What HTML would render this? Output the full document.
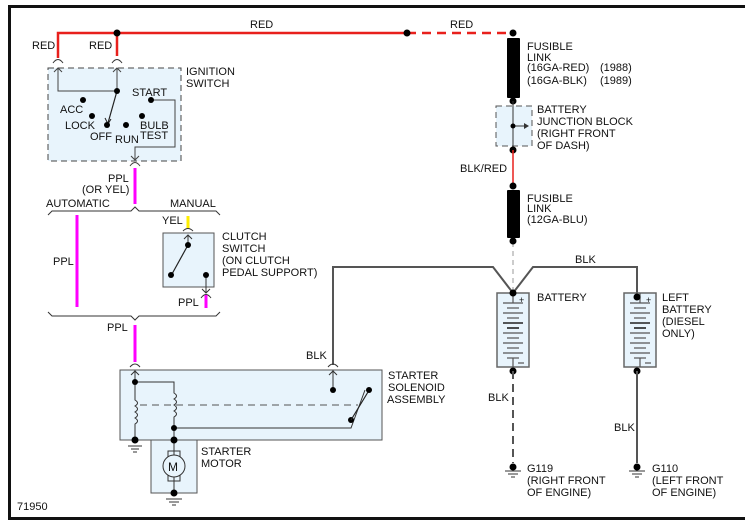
<!DOCTYPE html>
<html><head><meta charset="utf-8"><style>
html,body{margin:0;padding:0;background:#fff;}
svg{display:block;}
text{font-family:"Liberation Sans",Arial,sans-serif;font-size:11px;fill:#111;}
</style></head><body>
<svg width="745" height="522" viewBox="0 0 745 522" xmlns="http://www.w3.org/2000/svg">
<rect x="0" y="0" width="745" height="522" fill="#fff"/>
<!-- frame -->
<path d="M9.5 520 V6.5 H745" fill="none" stroke="#111" stroke-width="3"/>
<path d="M8 518.5 H745" stroke="#111" stroke-width="3"/>

<!-- red top wire -->
<path d="M58 58 V33 H407" fill="none" stroke="#e8201c" stroke-width="2.5"/>
<path d="M117 33 V56" stroke="#e8201c" stroke-width="2.5"/>
<path d="M407 33 H513" stroke="#e8201c" stroke-width="2.5" stroke-dasharray="9,6"/>
<circle cx="117" cy="33" r="3.5" fill="#000"/>
<circle cx="407" cy="33" r="3.5" fill="#000"/>
<circle cx="513" cy="33" r="3.5" fill="#000"/>
<text x="32" y="49">RED</text><text x="89" y="49">RED</text>
<text x="250" y="28">RED</text><text x="450" y="28">RED</text>
<!-- connector arcs -->
<g fill="none" stroke="#333" stroke-width="1">
<path d="M53 63 Q58 56 63 63"/><path d="M112 63 Q117 56 122 63"/>
</g>
<!-- ignition switch -->
<rect x="48" y="68" width="133" height="93" fill="#e8f4fc" stroke="#444" stroke-dasharray="6,4"/>
<g fill="none" stroke="#444" stroke-width="1">
<path d="M58 68 V91 H117"/><path d="M117 68 V91"/>
<path d="M54 72 L58 68 L62 72"/><path d="M113 72 L117 68 L121 72"/>
<path d="M151 100 H175 V147 H135 V160"/><path d="M131 156 L135 160 L139 156"/>
<path d="M130 166 Q135 159 140 166"/>
</g>
<line x1="117" y1="91" x2="108" y2="123" stroke="#222" stroke-width="1.2"/>
<path d="M105 118 L108 124 L111 119" fill="none" stroke="#222"/>
<g fill="#000"><circle cx="117" cy="91" r="3"/><circle cx="83" cy="100" r="3"/><circle cx="92" cy="116" r="3"/>
<circle cx="107" cy="125" r="3"/><circle cx="126" cy="125" r="3"/><circle cx="142" cy="116" r="3"/><circle cx="151" cy="100" r="3"/></g>
<text x="60" y="113">ACC</text><text x="65" y="129">LOCK</text><text x="90" y="140">OFF</text><text x="115" y="143">RUN</text>
<text x="140" y="129">BULB</text><text x="140" y="139">TEST</text><text x="132" y="96">START</text>
<text x="186" y="75">IGNITION</text><text x="186" y="87">SWITCH</text>
<!-- PPL -->
<line x1="135" y1="168" x2="135" y2="204" stroke="#ff00ff" stroke-width="3"/>
<text x="108" y="182">PPL</text><text x="82" y="193">(OR YEL)</text>
<text x="46" y="207">AUTOMATIC</text><text x="170" y="207">MANUAL</text>
<path d="M48 215 L52 211 H131 L135 207 L139 211 H216 L220 215" fill="none" stroke="#333"/>
<line x1="77" y1="215" x2="77" y2="307" stroke="#ff00ff" stroke-width="3"/>
<text x="53" y="265">PPL</text>
<!-- clutch switch -->
<line x1="188" y1="216" x2="188" y2="228" stroke="#ffee00" stroke-width="3"/>
<text x="162" y="224">YEL</text>
<path d="M183 231 Q188 226 193 231" fill="none" stroke="#333"/>
<rect x="163" y="233" width="51" height="54" fill="#e8f4fc" stroke="#555"/>
<g fill="none" stroke="#333"><path d="M188 245 V235"/><path d="M184 239 L188 235 L192 239"/>
<path d="M206 275 V293"/><path d="M202 289 L206 293 L210 289"/><path d="M201 298 Q206 291 211 298"/></g>
<line x1="188" y1="245" x2="172" y2="274" stroke="#222" stroke-width="1.2"/>
<g fill="#000"><circle cx="188" cy="245" r="3"/><circle cx="171" cy="275" r="3"/><circle cx="206" cy="275" r="3"/></g>
<text x="222" y="240">CLUTCH</text><text x="222" y="252">SWITCH</text><text x="222" y="264">(ON CLUTCH</text><text x="222" y="276">PEDAL SUPPORT)</text>
<line x1="206" y1="295" x2="206" y2="308" stroke="#ff00ff" stroke-width="3"/>
<text x="178" y="306">PPL</text>
<path d="M48 312 L52 316 H131 L135 320 L139 316 H216 L220 312" fill="none" stroke="#333"/>
<text x="107" y="331">PPL</text>
<line x1="135" y1="325" x2="135" y2="362" stroke="#ff00ff" stroke-width="3"/>
<path d="M130 367 Q135 361 140 367" fill="none" stroke="#333"/>
<!-- BLK wire -->
<path d="M333 365 V267 H493 L513 293 L533 267 H637 V297" fill="none" stroke="#555" stroke-width="2"/>
<line x1="513" y1="242" x2="513" y2="293" stroke="#bbb" stroke-width="1.5" stroke-dasharray="5,4"/>
<text x="306" y="359">BLK</text><text x="575" y="263">BLK</text>
<path d="M328 367 Q333 361 338 367" fill="none" stroke="#333"/>
<!-- solenoid -->
<rect x="120" y="370" width="262" height="70" fill="#e8f4fc" stroke="#555"/>
<rect x="151" y="440" width="46" height="53" fill="#e8f4fc" stroke="#555"/>
<g fill="none" stroke="#333" stroke-width="1">
<path d="M135 370 V382"/><path d="M131 375 L135 371 L139 375"/>
<path d="M135 382 V400 q5 3 0 6 q5 3 0 6 q5 3 0 6 q5 3 0 6 V440"/>
<path d="M135 382 H174 V393 q5 3 0 6 q5 3 0 6 q5 3 0 6 q5 3 0 6 V440"/>
<path d="M174 428 H351 L365 390"/>
<path d="M333 370 V390"/><path d="M329 375 L333 371 L337 375"/>
<path d="M140 405 H358" stroke="#555" stroke-dasharray="7,5"/>
<path d="M174 440 V457"/><path d="M174 475 V493"/>
<rect x="168" y="451" width="12" height="6"/><rect x="168" y="475" width="12" height="6"/>
<path d="M128 446 H142 M131 449 H139 M133 452 H137"/>
<path d="M166 499 H182 M169 502 H179 M172 505 H176"/>
</g>
<circle cx="174" cy="466" r="11" fill="#e8f4fc" stroke="#333"/>
<text x="168" y="471" style="font-size:12px">M</text>
<g fill="#000"><circle cx="135" cy="382" r="3"/><circle cx="174" cy="428" r="3"/><circle cx="135" cy="440" r="3.5"/>
<circle cx="174" cy="440" r="3.5"/><circle cx="333" cy="390" r="3"/><circle cx="351" cy="420" r="3"/><circle cx="369" cy="390" r="3"/><circle cx="174" cy="493" r="3.5"/></g>
<line x1="351" y1="420" x2="368" y2="392" stroke="#222" stroke-width="1.2"/>
<text x="388" y="379">STARTER</text><text x="388" y="391">SOLENOID</text><text x="387" y="403">ASSEMBLY</text>
<text x="201" y="455">STARTER</text><text x="201" y="467">MOTOR</text>
<!-- fusible link 1 -->
<rect x="507" y="38" width="13" height="60" rx="1" fill="#000"/>
<circle cx="513" cy="101" r="3.5" fill="#000"/>
<text x="527" y="50">FUSIBLE</text><text x="527" y="61">LINK</text><text x="527" y="71">(16GA-RED)</text><text x="600" y="71">(1988)</text>
<text x="527" y="84">(16GA-BLK)</text><text x="600" y="84">(1989)</text>
<rect x="496" y="106" width="36" height="40" fill="#e8f4fc" stroke="#555" stroke-dasharray="6,4"/>
<line x1="513" y1="101" x2="513" y2="150" stroke="#333"/>
<line x1="513" y1="126" x2="527" y2="126" stroke="#333"/>
<path d="M524 123 L529 126 L524 129 Z" fill="#333"/>
<circle cx="513" cy="126" r="2.5" fill="#000"/>
<circle cx="513" cy="150" r="3.5" fill="#000"/>
<text x="537" y="113">BATTERY</text><text x="537" y="125">JUNCTION BLOCK</text><text x="537" y="137">(RIGHT FRONT</text><text x="537" y="149">OF DASH)</text>
<line x1="513" y1="150" x2="513" y2="186" stroke="#e8201c" stroke-width="1.5"/>
<text x="460" y="172">BLK/RED</text>
<circle cx="513" cy="186" r="3.5" fill="#000"/>
<rect x="507" y="190" width="13" height="48" rx="1" fill="#000"/>
<circle cx="513" cy="241" r="3.5" fill="#000"/>
<text x="527" y="202">FUSIBLE</text><text x="527" y="212">LINK</text><text x="527" y="223">(12GA-BLU)</text>
<!-- batteries -->
<g id="bat">
<rect x="497" y="293" width="32" height="74" fill="#e8f4fc" stroke="#666" stroke-width="1.5"/>
<g stroke="#555" stroke-width="1.2">
<line x1="513" y1="293" x2="513" y2="303"/><line x1="503" y1="303" x2="523" y2="303"/>
<line x1="507" y1="308" x2="519" y2="308"/><line x1="503" y1="313" x2="523" y2="313"/>
<line x1="507" y1="318" x2="519" y2="318"/><line x1="503" y1="323" x2="523" y2="323" stroke="#222" stroke-width="1.6"/>
<line x1="507" y1="328" x2="519" y2="328" stroke="#222" stroke-width="1.6"/><line x1="503" y1="333" x2="523" y2="333"/>
<line x1="507" y1="338" x2="519" y2="338"/><line x1="503" y1="343" x2="523" y2="343"/>
<line x1="507" y1="348" x2="519" y2="348"/><line x1="503" y1="353" x2="523" y2="353"/>
<line x1="507" y1="358" x2="519" y2="358"/><line x1="513" y1="358" x2="513" y2="367"/>
<line x1="518" y1="363" x2="524" y2="363"/>
</g>
<text x="519" y="303" style="font-size:9px">+</text>
</g>
<use href="#bat" x="127"/>
<circle cx="513" cy="293" r="3.5" fill="#000"/><circle cx="637" cy="297" r="3.5" fill="#000"/>
<text x="537" y="301">BATTERY</text>
<text x="662" y="301">LEFT</text><text x="662" y="313">BATTERY</text><text x="662" y="325">(DIESEL</text><text x="662" y="337">ONLY)</text>
<circle cx="513" cy="371" r="3.5" fill="#000"/><circle cx="637" cy="371" r="3.5" fill="#000"/>
<line x1="513" y1="371" x2="513" y2="463" stroke="#555" stroke-width="2" stroke-dasharray="8,5"/>
<line x1="637" y1="371" x2="637" y2="463" stroke="#555" stroke-width="2"/>
<text x="488" y="401">BLK</text><text x="614" y="431">BLK</text>
<g stroke="#333" fill="none"><path d="M505 471 H521 M508 474 H518 M511 477 H515"/><path d="M629 471 H645 M632 474 H642 M635 477 H639"/></g>
<circle cx="513" cy="467" r="3.5" fill="#000"/><circle cx="637" cy="467" r="3.5" fill="#000"/>
<text x="527" y="472">G119</text><text x="527" y="484">(RIGHT FRONT</text><text x="527" y="496">OF ENGINE)</text>
<text x="652" y="472">G110</text><text x="652" y="484">(LEFT FRONT</text><text x="652" y="496">OF ENGINE)</text>
<text x="17" y="510">71950</text>
</svg>
</body></html>
